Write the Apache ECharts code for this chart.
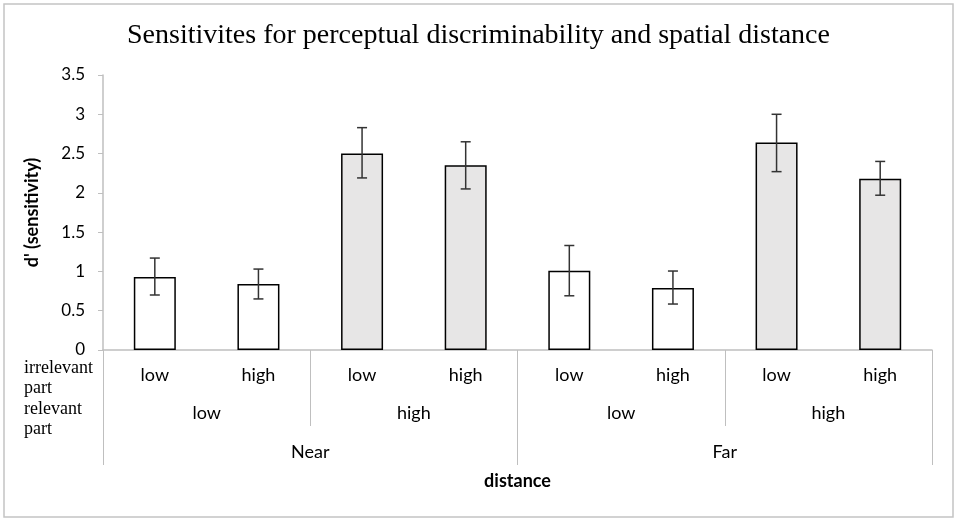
<!DOCTYPE html>
<html>
<head>
<meta charset="utf-8">
<script src="https://cdn.jsdelivr.net/npm/echarts@6/dist/echarts.min.js"></script>
<style>
  html, body { margin: 0; padding: 0; background: #fff; }
  #chart { width: 957px; height: 522px; }
</style>
</head>
<body>
<div id="chart"></div>
<script>
// categories, three levels
var irrelevantPart = ['low', 'high', 'low', 'high', 'low', 'high', 'low', 'high'];
var relevantPart = ['low', 'high', 'low', 'high'];
var distance = ['Near', 'Far'];
// d' means and error bar ends
var dPrime = [0.93, 0.84, 2.50, 2.35, 1.01, 0.79, 2.64, 2.18];
var errLow = [0.70, 0.65, 2.19, 2.05, 0.69, 0.585, 2.27, 1.97];
var errHigh = [1.17, 1.03, 2.83, 2.65, 1.33, 1.005, 3.00, 2.40];
var yTicks = [0, 0.5, 1, 1.5, 2, 2.5, 3, 3.5];

var axisGray = '#bfbfbf';
var sans = 'Lato';
var serif = 'Liberation Serif';

var myChart = echarts.init(document.getElementById('chart'));

var barData = dPrime.map(function (v, i) {
  var relIdx = Math.floor(i / 2) % 2;
  return {
    value: v,
    itemStyle: { color: relIdx === 0 ? '#ffffff' : '#e7e6e6' }
  };
});

var errData = dPrime.map(function (v, i) {
  return [i, errLow[i], errHigh[i]];
});

var option = {
  backgroundColor: '#fff',
  animation: false,
  title: {
    text: 'Sensitivites for perceptual discriminability and spatial distance',
    left: 'center',
    top: 17,
    textStyle: { fontFamily: serif, fontSize: 28, fontWeight: 'normal', color: '#000' }
  },
  graphic: [
    {
      type: 'rect',
      shape: { x: 4, y: 4, width: 949, height: 513 },
      style: { fill: 'none', stroke: '#c4c4c4', lineWidth: 1.5 },
      silent: true
    },
    {
      type: 'text',
      left: 24, top: 358,
      style: { text: 'irrelevant\npart', font: '18px "Liberation Serif"', fill: '#000', lineHeight: 20.5 }
    },
    {
      type: 'text',
      left: 24, top: 399,
      style: { text: 'relevant\npart', font: '18px "Liberation Serif"', fill: '#000', lineHeight: 20.5 }
    }
  ],
  grid: { left: 103, right: 25, top: 75, bottom: 172 },
  xAxis: [
    {
      type: 'category',
      data: irrelevantPart,
      position: 'bottom',
      axisLine: { lineStyle: { color: axisGray, width: 1.5 } },
      axisTick: { show: false },
      axisLabel: { margin: 16, fontFamily: sans, fontSize: 18, color: '#000' }
    },
    {
      type: 'category',
      data: relevantPart,
      position: 'bottom',
      axisLine: { show: false },
      axisTick: { show: true, length: 76, lineStyle: { color: axisGray, width: 1 } },
      axisLabel: { margin: 54, fontFamily: sans, fontSize: 18, color: '#000' }
    },
    {
      type: 'category',
      data: distance,
      position: 'bottom',
      name: 'distance',
      nameLocation: 'middle',
      nameGap: 122,
      nameTextStyle: { fontFamily: sans, fontSize: 18, fontWeight: 'bold', color: '#000' },
      axisLine: { show: false },
      axisTick: { show: true, length: 115, lineStyle: { color: axisGray, width: 1 } },
      axisLabel: { margin: 93, fontFamily: sans, fontSize: 18, color: '#000' }
    }
  ],
  yAxis: {
    type: 'value',
    min: yTicks[0],
    max: yTicks[yTicks.length - 1],
    interval: 0.5,
    name: "d' (sensitivity)",
    nameLocation: 'middle',
    nameGap: 62,
    nameTextStyle: { fontFamily: sans, fontSize: 18, fontWeight: 'bold', color: '#000' },
    axisLine: { show: true, lineStyle: { color: axisGray, width: 1.5 } },
    axisTick: { show: true, length: 5, lineStyle: { color: axisGray } },
    splitLine: { show: false },
    axisLabel: { margin: 18, fontFamily: sans, fontSize: 17, color: '#000' }
  },
  series: [
    {
      type: 'bar',
      xAxisIndex: 0,
      barWidth: 42,
      data: barData,
      itemStyle: { borderColor: '#000', borderWidth: 1.5 }
    },
    {
      type: 'custom',
      xAxisIndex: 0,
      z: 10,
      data: errData,
      renderItem: function (params, api) {
        var x = api.value(0);
        var lo = api.coord([x, api.value(1)]);
        var hi = api.coord([x, api.value(2)]);
        var cap = 5;
        var st = { stroke: '#333', lineWidth: 1.5 };
        return {
          type: 'group',
          children: [
            { type: 'line', shape: { x1: lo[0], y1: lo[1], x2: hi[0], y2: hi[1] }, style: st },
            { type: 'line', shape: { x1: hi[0] - cap, y1: hi[1], x2: hi[0] + cap, y2: hi[1] }, style: st },
            { type: 'line', shape: { x1: lo[0] - cap, y1: lo[1], x2: lo[0] + cap, y2: lo[1] }, style: st }
          ]
        };
      }
    }
  ]
};

myChart.setOption(option);
</script>
</body>
</html>
